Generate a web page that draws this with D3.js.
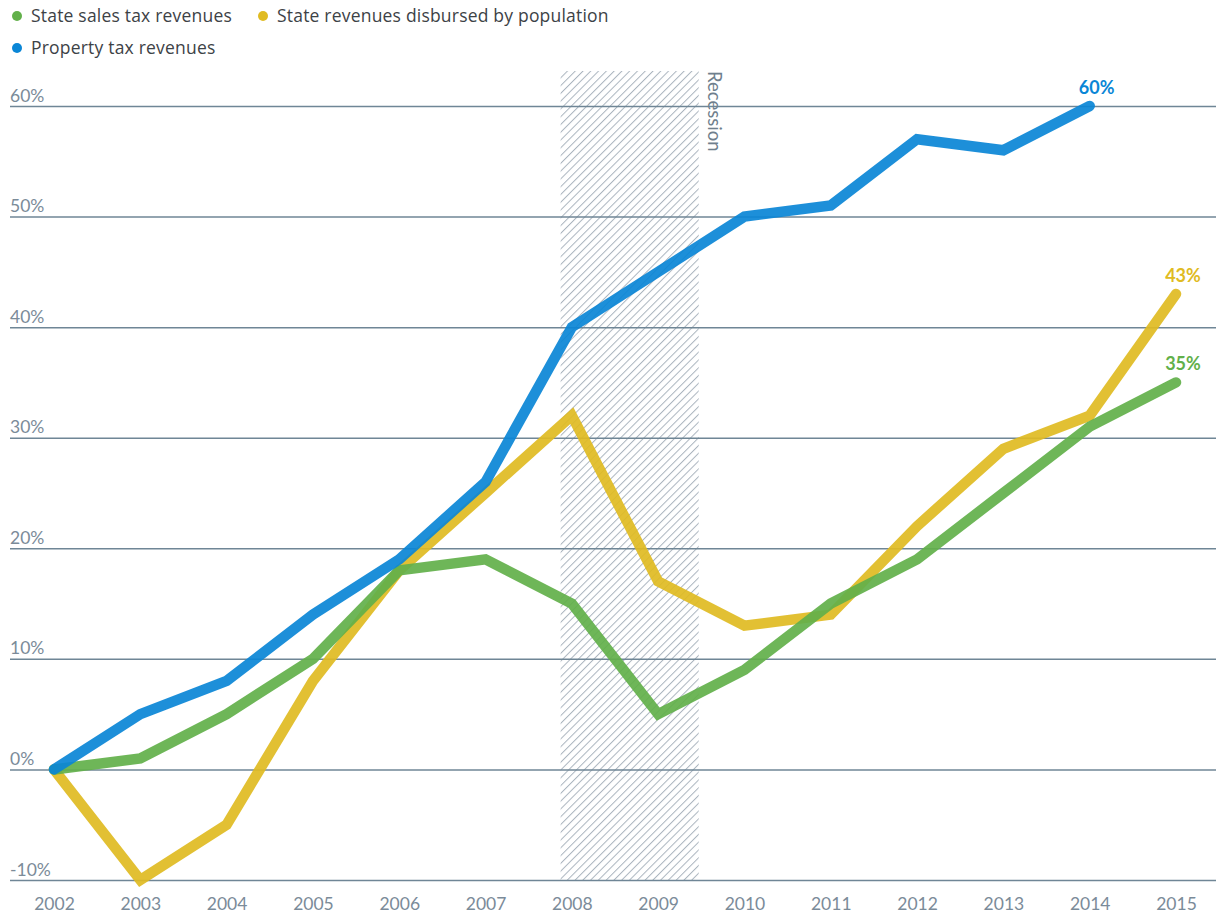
<!DOCTYPE html>
<html>
<head>
<meta charset="utf-8">
<script src="https://cdn.jsdelivr.net/npm/d3@7"></script>
<style>
  html, body { margin: 0; padding: 0; background: #fff; }
  svg { display: block; font-family: Lato, "Open Sans", sans-serif; }
</style>
</head>
<body>
<svg id="chart" width="1216" height="916"></svg>
<script>
// ---- data ----
const years = [2002, 2003, 2004, 2005, 2006, 2007, 2008, 2009, 2010, 2011, 2012, 2013, 2014, 2015];
const salesTax = [0, 1, 5, 10, 18, 19, 15, 5, 9, 15, 19, 25, 31, 35];
const disbursed = [0, -10, -5, 8, 18, 25, 32, 17, 13, 14, 22, 29, 32, 43];
const propertyTax = [0, 5, 8, 14, 19, 26, 40, 45, 50, 51, 57, 56, 60];
const yTicks = [-10, 0, 10, 20, 30, 40, 50, 60];
const recession = [2007.87, 2009.47];
const seriesNames = ["State sales tax revenues", "State revenues disbursed by population", "Property tax revenues"];
const seriesColors = ["#62b04a", "#e0bb22", "#0a86d6"];

const svg = d3.select("#chart");
const x = d3.scaleLinear().domain([2002, 2015]).range([54, 1176]);
const y = d3.scaleLinear().domain([-10, 60]).range([880, 106]);

// recession hatch pattern
const defs = svg.append("defs");
const pat = defs.append("pattern")
  .attr("id", "hatch").attr("patternUnits", "userSpaceOnUse")
  .attr("width", 5.5).attr("height", 5.5)
  .attr("patternTransform", "rotate(45)");
pat.append("line").attr("x1", 0).attr("y1", 0).attr("x2", 0).attr("y2", 5.5)
  .attr("stroke", "#aab4be").attr("stroke-width", 2);

svg.append("rect")
  .attr("x", x(recession[0])).attr("y", 71)
  .attr("width", x(recession[1]) - x(recession[0]))
  .attr("height", y(-10) - 71)
  .attr("fill", "url(#hatch)");

svg.append("text")
  .attr("transform", `translate(${x(recession[1]) + 9},71) rotate(90)`)
  .attr("font-size", 18.5).attr("fill", "#6f7f8d")
  .text("Recession");

// gridlines + y labels
const yAxis = d3.axisLeft(y).tickValues(yTicks).tickSize(-(1216 - 10)).tickFormat(d => d + "%");
const gy = svg.append("g").attr("transform", "translate(10,0)").call(yAxis);
gy.select(".domain").remove();
gy.selectAll(".tick line").attr("stroke", "#6f8696").attr("stroke-width", 1.5);
gy.selectAll(".tick text")
  .attr("x", 0).attr("y", 0).attr("dy", -5).attr("text-anchor", "start")
  .attr("font-size", 17.5).attr("font-family", "Lato, sans-serif")
  .attr("fill", "#7b8b99");

// x labels
const xAxis = d3.axisBottom(x).tickValues(years).tickSize(0).tickFormat(d3.format("d"));
const gx = svg.append("g").attr("transform", "translate(0,880)").call(xAxis);
gx.select(".domain").remove();
gx.selectAll(".tick text")
  .attr("y", 30).attr("dy", 0)
  .attr("font-size", 17.5).attr("font-family", "Lato, sans-serif")
  .attr("fill", "#7b8b99");

// lines
const allSeries = [salesTax, disbursed, propertyTax];
const line = d3.line().x((d, i) => x(years[i])).y(d => y(d));
const drawOrder = [1, 0, 2];
drawOrder.forEach(k => {
  svg.append("path")
    .datum(allSeries[k])
    .attr("d", line)
    .attr("fill", "none")
    .attr("stroke", seriesColors[k])
    .attr("stroke-width", 10.5)
    .attr("stroke-linecap", "round")
    .attr("stroke-linejoin", "miter")
    .attr("opacity", 0.92);
});

// end labels
allSeries.forEach((s, k) => {
  const i = s.length - 1;
  svg.append("text")
    .attr("x", x(years[i]) + 7).attr("y", y(s[i]) - 12)
    .attr("text-anchor", "middle")
    .attr("font-size", 18).attr("font-weight", "bold")
    .attr("fill", seriesColors[k])
    .text(s[i] + "%");
});

// legend
const legendPos = [[17, 16], [263, 16], [17, 48]];
seriesNames.forEach((n, k) => {
  const g = svg.append("g").attr("transform", `translate(${legendPos[k][0]},${legendPos[k][1]})`);
  g.append("circle").attr("r", 5).attr("fill", seriesColors[k]);
  g.append("text").attr("x", 14).attr("y", 6)
    .attr("font-size", 17.5).attr("letter-spacing", 0.2)
    .attr("font-family", "'Open Sans', sans-serif")
    .attr("fill", "#3d4246")
    .text(n);
});
</script>
</body>
</html>
